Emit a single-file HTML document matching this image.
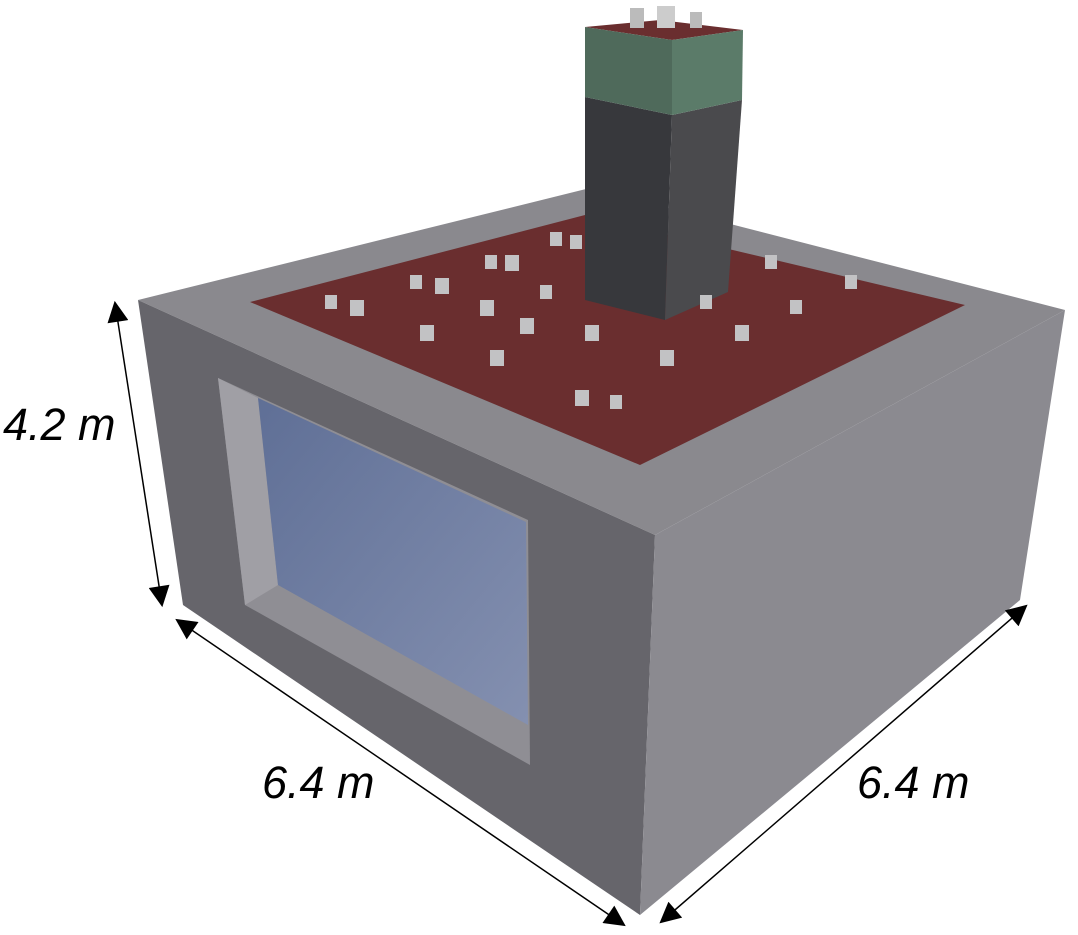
<!DOCTYPE html>
<html><head><meta charset="utf-8"><style>
html,body{margin:0;padding:0;background:#fff;}
svg{display:block;}
text{font-family:"Liberation Sans",sans-serif;font-style:italic;font-size:45px;fill:#000;}
</style></head><body>
<svg width="1078" height="935" viewBox="0 0 1078 935">
<defs>
<linearGradient id="glass" x1="0" y1="0" x2="1" y2="1">
<stop offset="0" stop-color="#5f6f96"/><stop offset="1" stop-color="#8490b0"/>
</linearGradient>
<marker id="ah" viewBox="0 0 10 10" refX="9" refY="5" markerWidth="16" markerHeight="14" orient="auto-start-reverse"><path d="M0,0L10,5L0,10z" fill="#000"/></marker>
</defs>
<polygon points="138,300 590,188 1065,310 655,535" fill="#8a898e"/>
<polygon points="250,302 585,215 965,305 640,465" fill="#6a2e2f"/>
<polygon points="138,300 655,535 640,915 183,605" fill="#66656b"/>
<polygon points="655,535 1065,310 1020,600 640,915" fill="#8b8a90"/>
<polygon points="218,378 528,520 530,765 245,605" fill="#8f8e94"/>
<polygon points="218,378 258,398 278,585 245,605" fill="#a09fa5"/>
<polygon points="258,398 526,522 528,725 278,585" fill="url(#glass)"/>
<g>
<polygon points="585,27 672,40 743,30 660,20" fill="#6a2e2f"/>
<polygon points="585,97 672,115 665,320 585,300" fill="#37383c"/>
<polygon points="672,115 742,100 728,292 665,320" fill="#4a4a4d"/>
<polygon points="585,27 672,40 672,115 585,97" fill="#4f6a5b"/>
<polygon points="672,40 743,30 742,100 672,115" fill="#5b7b69"/>
<rect x="630" y="8" width="14" height="20" fill="#bbb"/><rect x="657" y="6" width="18" height="22" fill="#ccc"/><rect x="690" y="12" width="12" height="16" fill="#bbb"/>
</g>
<g fill="#c2c2c4">
<rect x="325" y="295" width="12" height="14"/><rect x="350" y="300" width="14" height="16"/><rect x="410" y="275" width="12" height="14"/><rect x="435" y="278" width="14" height="16"/><rect x="485" y="255" width="12" height="14"/><rect x="505" y="255" width="14" height="16"/><rect x="550" y="232" width="12" height="14"/><rect x="570" y="235" width="12" height="14"/>
<rect x="420" y="325" width="14" height="16"/><rect x="490" y="350" width="14" height="16"/><rect x="520" y="318" width="14" height="16"/><rect x="575" y="390" width="14" height="16"/><rect x="585" y="325" width="14" height="16"/><rect x="660" y="350" width="14" height="16"/><rect x="735" y="325" width="14" height="16"/><rect x="700" y="295" width="12" height="14"/><rect x="790" y="300" width="12" height="14"/><rect x="765" y="255" width="12" height="14"/><rect x="845" y="275" width="12" height="14"/><rect x="480" y="300" width="14" height="16"/><rect x="540" y="285" width="12" height="14"/><rect x="610" y="395" width="12" height="14"/>
</g>
<g stroke="#000" stroke-width="1.5">
<line x1="115" y1="303" x2="162" y2="605" marker-start="url(#ah)" marker-end="url(#ah)"/>
<line x1="177" y1="620" x2="624" y2="925" marker-start="url(#ah)" marker-end="url(#ah)"/>
<line x1="661" y1="922" x2="1026" y2="606" marker-start="url(#ah)" marker-end="url(#ah)"/>
</g>
<text x="3" y="440">4.2 m</text>
<text x="262" y="798">6.4 m</text>
<text x="857" y="798">6.4 m</text>
</svg>
</body></html>
